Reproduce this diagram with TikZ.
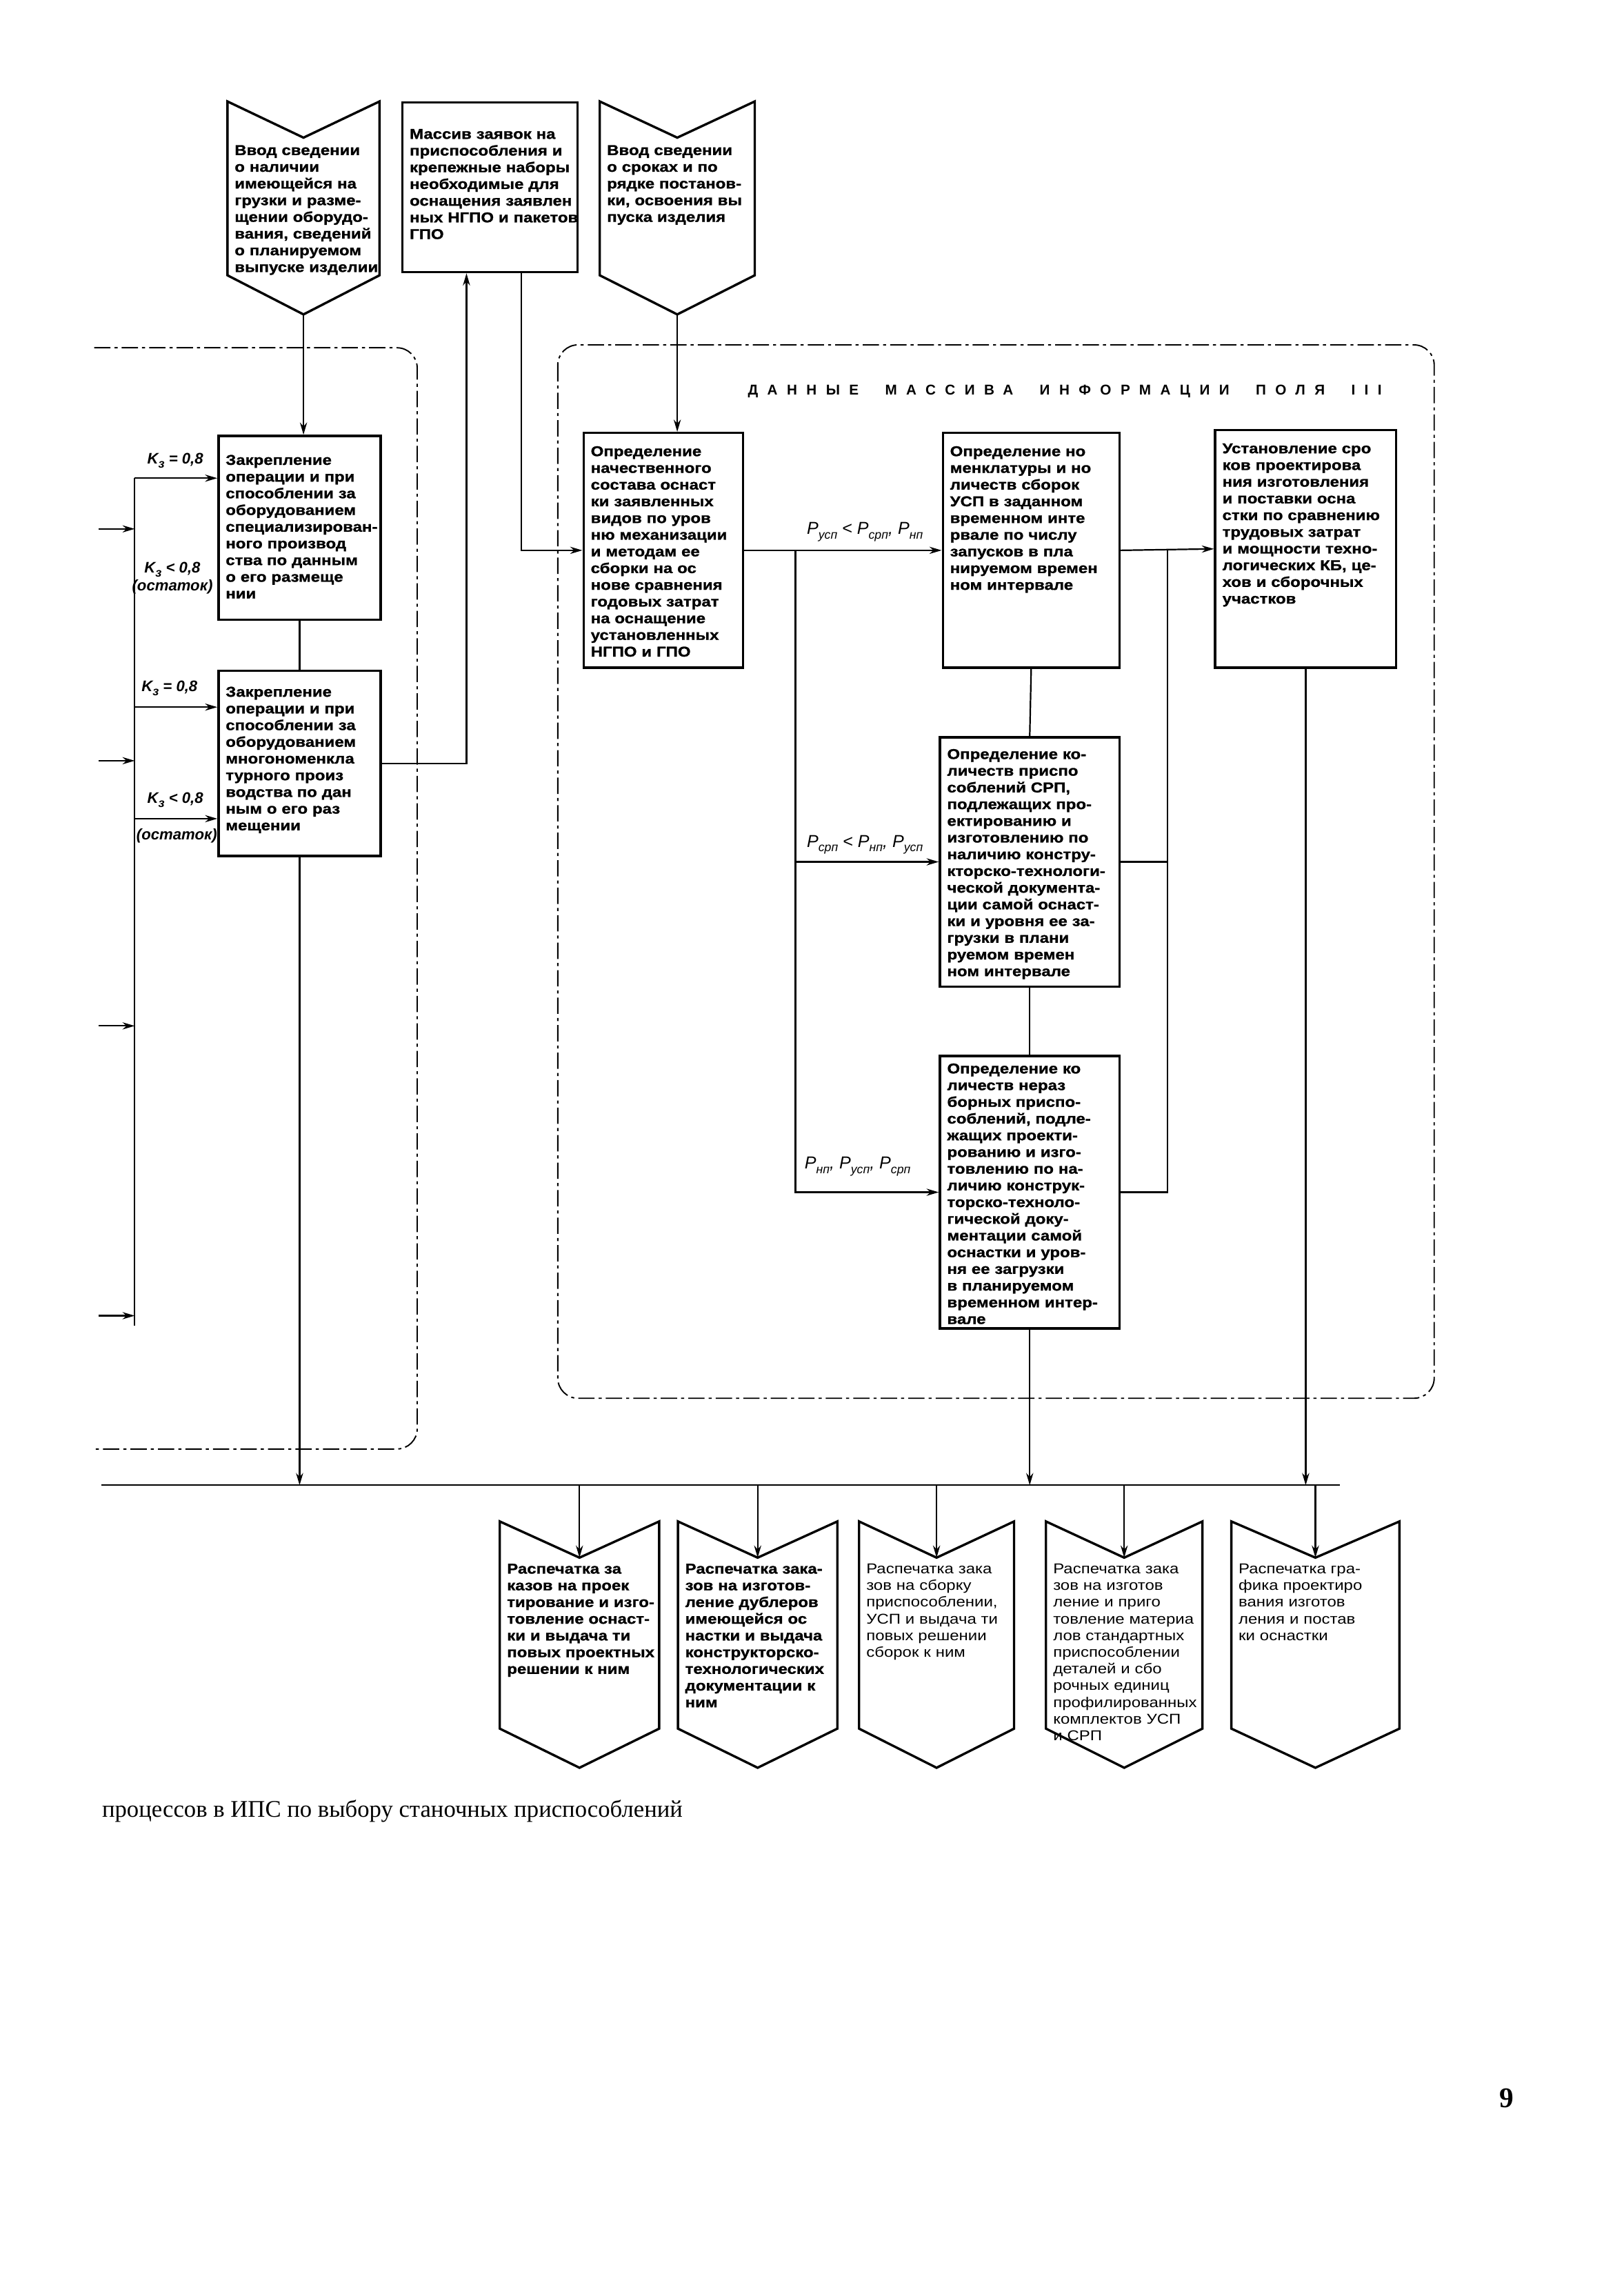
\documentclass[tikz,border=0pt]{standalone}
\usepackage{fontspec}
\setmainfont{Liberation Sans}
\newfontfamily\boxfont[FakeStretch=1.16,BoldFeatures={FakeBold=1.2}]{Liberation Sans}
\newfontfamily\capfont{Liberation Serif}
\usetikzlibrary{arrows.meta,calc}
\tikzset{
	box/.style 2 args={draw,line width=2.3pt,anchor=north west,inner xsep=0.25cm,inner ysep=0pt,
		text width=#1,text height=0.9cm,text depth=#2,
		font=\boxfont\bfseries\fontsize{14}{16.4}\selectfont},
	chev/.style 2 args={anchor=north west,inner xsep=0.25cm,inner ysep=0pt,outer sep=0pt,
		text width=#1,text height=1.85cm,text depth=#2,
		font=\boxfont\bfseries\fontsize{14}{16.4}\selectfont},
	faint/.style={font=\boxfont\fontsize{14}{16.4}\selectfont},
	chevline/.style={line width=2.3pt,line join=miter},
	link/.style={line width=1.5pt},
	arr/.style={link,-{Stealth[length=12pt,width=7pt]}},
	oarr/.style={link,-{Stealth[open,length=12pt,width=7pt]}},
	region/.style={line width=1.3pt,dash pattern=on 16pt off 4pt on 3pt off 4pt,rounded corners=0.7cm},
	klbl/.style={font=\bfseries\itshape\fontsize{15}{18}\selectfont,inner sep=1pt},
	plbl/.style={font=\itshape\fontsize{17}{19}\selectfont,inner sep=1pt}
}
\newcommand{\ix}[2]{#1\raisebox{-0.5ex}{\fontsize{12}{12}\selectfont #2}}
\newcommand{\rows}[1]{\begin{tabular}[t]{@{}l@{}}#1\end{tabular}}

\begin{document}
\begin{tikzpicture}[x=0.05cm,y=-0.05cm]
\useasboundingbox (0,0) rectangle (1121,1568);

% input blocks
\node[chev={4.75cm}{4.15cm}] (in1) at (157,70) {\rows{Ввод сведении\\о наличии\\имеющейся на\\грузки и разме-\\щении оборудо-\\вания, сведений\\о планируемом\\выпуске изделии}};
\node[box={5.55cm}{4.6cm},text height=1.25cm] (massiv) at (277,70) {\rows{Массив заявок на\\приспособления и\\крепежные наборы\\необходимые для\\оснащения заявлен\\ных НГПО и пакетов\\ГПО}};
\node[chev={4.85cm}{4.15cm}] (in2) at (414,70) {\rows{Ввод сведении\\о сроках и по\\рядке постанов-\\ки, освоения вы\\пуска изделия}};

% output blocks
\node[chev={5.0cm}{5.35cm},text height=1.8cm] (out1) at (345,1050) {\rows{Распечатка за\\казов на проек\\тирование и изго-\\товление оснаст-\\ки и выдача ти\\повых проектных\\решении к ним}};
\node[chev={5.0cm}{5.35cm},text height=1.8cm] (out2) at (468,1050) {\rows{Распечатка зака-\\зов на изготов-\\ление дублеров\\имеющейся ос\\настки и выдача\\конструкторско-\\технологических\\документации к\\ним}};
\node[chev={4.85cm}{5.35cm},text height=1.8cm,faint] (out3) at (593,1050) {\rows{Распечатка зака\\зов на сборку\\приспособлении,\\УСП и выдача ти\\повых решении\\сборок к ним}};
\node[chev={4.9cm}{5.35cm},text height=1.8cm,faint] (out4) at (722,1050) {\rows{Распечатка зака\\зов на изготов\\ление и приго\\товление материа\\лов стандартных\\приспособлении\\деталей и сбо\\рочных единиц\\профилированных\\комплектов УСП\\и СРП}};
\node[chev={5.3cm}{5.35cm},text height=1.8cm,faint] (out5) at (850,1050) {\rows{Распечатка гра-\\фика проектиро\\вания изготов\\ления и постав\\ки оснастки}};

\foreach \n in {in1,in2,out1,out2,out3,out4,out5}{
	\draw[chevline] (\n.north west) -- ([yshift=-1.25cm]\n.north) -- (\n.north east) -- (\n.south east) -- ([yshift=-1.35cm]\n.south) -- (\n.south west) -- cycle;
	\coordinate (\n-top) at ([yshift=-1.25cm]\n.north);
	\coordinate (\n-tip) at ([yshift=-1.35cm]\n.south);
}

% regions
\draw[region] (65,240) -- (288,240) -- (288,1000) -- (65,1000);
\draw[region] (385,238) rectangle (990,965);
\node[font=\bfseries\fontsize{14}{16}\selectfont\addfontfeature{LetterSpace=65}] (head) at (735,270) {ДАННЫЕ \ МАССИВА \ ИНФОРМАЦИИ \ ПОЛЯ \ III};

% left group
\node[box={5.1cm}{5.35cm},text height=1.0cm] (box1) at (150,300) {\rows{Закрепление\\операции и при\\способлении за\\оборудованием\\специализирован-\\ного производ\\ства по данным\\о его размеще\\нии}};
\node[box={5.1cm}{5.5cm}] (box2) at (150,462) {\rows{Закрепление\\операции и при\\способлении за\\оборудованием\\многономенкла\\турного произ\\водства по дан\\ным о его раз\\мещении}};

% right group
\node[box={5.0cm}{7.3cm},text height=0.8cm] (boxA) at (402,298) {\rows{Определение\\начественного\\состава оснаст\\ки заявленных\\видов по уров\\ню механизации\\и методам ее\\сборки на ос\\нове сравнения\\годовых затрат\\на оснащение\\установленных\\НГПО и ГПО}};
\node[box={5.6cm}{7.3cm},text height=0.8cm] (boxB) at (650,298) {\rows{Определение но\\менклатуры и но\\личеств сборок\\УСП в заданном\\временном инте\\рвале по числу\\запусков в пла\\нируемом времен\\ном интервале}};
\node[box={5.75cm}{7.4cm},text height=0.8cm] (boxC) at (838,296) {\rows{Установление сро\\ков проектирова\\ния изготовления\\и поставки осна\\стки по сравнению\\трудовых затрат\\и мощности техно-\\логических КБ, це-\\хов и сборочных\\участков}};
\node[box={5.7cm}{7.85cm},text height=0.75cm] (boxD) at (648,508) {\rows{Определение ко-\\личеств приспо\\соблений СРП,\\подлежащих про-\\ектированию и\\изготовлению по\\наличию констру-\\кторско-технологи-\\ческой документа-\\ции самой оснаст-\\ки и уровня ее за-\\грузки в плани\\руемом времен\\ном интервале}};
\node[box={5.7cm}{8.8cm},text height=0.6cm] (boxE) at (648,728) {\rows{Определение ко\\личеств нераз\\борных приспо-\\соблений, подле-\\жащих проекти-\\рованию и изго-\\товлению по на-\\личию конструк-\\торско-техноло-\\гической доку-\\ментации самой\\оснастки и уров-\\ня ее загрузки\\в планируемом\\временном интер-\\вале}};

% labels
\node[klbl] (k1) at (121,318) {\ix{K}{з} = 0,8};
\node[klbl,align=center] (k2) at (119,399) {\ix{K}{з} < 0,8\\(остаток)};
\node[klbl] (k3) at (117,475) {\ix{K}{з} = 0,8};
\node[klbl] (k4) at (121,552) {\ix{K}{з} < 0,8};
\node[klbl] (k5) at (122,577) {(остаток)};
\node[plbl] (p1) at (597,367) {\ix{P}{усп} < \ix{P}{срп}, \ix{P}{нп}};
\node[plbl] (p2) at (597,583) {\ix{P}{срп} < \ix{P}{нп}, \ix{P}{усп}};
\node[plbl] (p3) at (592,805) {\ix{P}{нп}, \ix{P}{усп}, \ix{P}{срп}};

% left connectors
\coordinate (vt) at (93,330);
\coordinate (vb) at (93,915);
\coordinate (v2a) at (93,488);
\coordinate (v2b) at (93,565);
\draw[link] (vt) -- (vb);
\draw[oarr] (vt) -- (vt -| box1.west);
\draw[oarr] (v2a) -- (v2a -| box2.west);
\draw[oarr] (v2b) -- (v2b -| box2.west);
\foreach \y [count=\i] in {365,525,708,908}{
	\coordinate (src\i) at (68,\y);
	\draw[oarr] (src\i) -- (src\i -| vt);
}
\draw[arr] (in1-tip) -- (in1-tip |- box1.north);
\draw[link] (box1.south) -- (box2.north);
\coordinate (mU) at ($(massiv.south west)+(45,0)$);
\coordinate (mD) at ($(massiv.south west)+(83,0)$);
\draw[arr] (box2.east) -| (mU);
\draw[arr] (mD) |- (boxA.west);

% right connectors
\draw[arr] (in2-tip) -- (in2-tip |- boxA.north);
\draw[arr] (boxA.east) -- (boxB.west) coordinate[pos=0.26] (jA);
\draw[arr] (jA) |- (boxD.west);
\draw[arr] (jA) |- (boxE.west);
\draw[link] (boxB.south) -- (boxD.north);
\draw[link] (boxD.south) -- (boxE.north);
\draw[arr] (boxB.east) -- (boxC.west) coordinate[pos=0.5] (jB);
\draw[link] (boxD.east) -| (jB);
\draw[link] (boxE.east) -| (jB);

% output bus
\coordinate (busL) at (70,1025);
\coordinate (busR) at (925,1025);
\draw[link] (busL) -- (busR);
\draw[arr] (box2.south) -- (box2.south |- busL);
\draw[arr] (boxE.south) -- (boxE.south |- busL);
\draw[arr] (boxC.south) -- (boxC.south |- busL);
\foreach \n in {out1,out2,out3,out4,out5}
	\draw[arr] (\n-top |- busL) -- (\n-top);

\node[font=\capfont\fontsize{23.5}{28}\selectfont,anchor=west] (cap) at (68,1250) {процессов в ИПС по выбору станочных приспособлений};
\node[font=\capfont\bfseries\fontsize{28}{30}\selectfont] (pnum) at (1040,1448) {9};
\end{tikzpicture}
\end{document}
